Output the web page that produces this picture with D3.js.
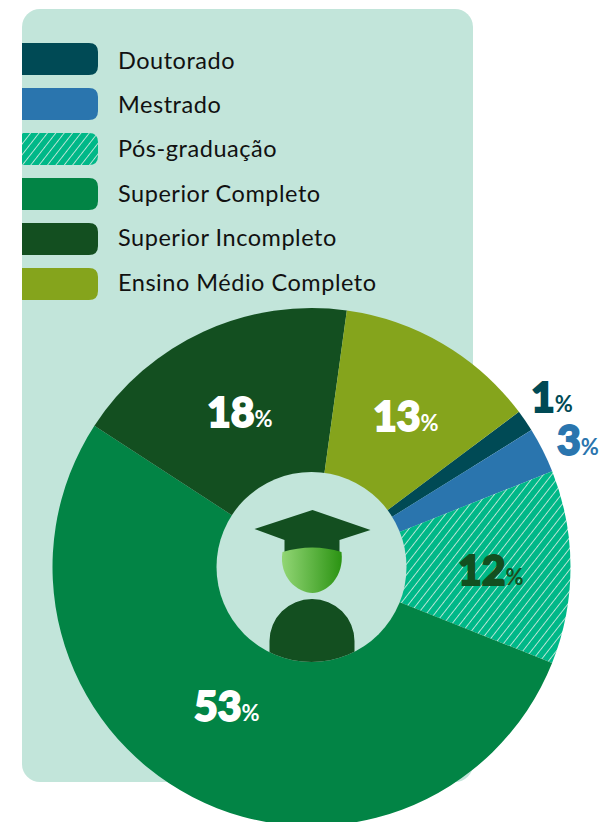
<!DOCTYPE html>
<html><head><meta charset="utf-8">
<script src="https://cdn.jsdelivr.net/npm/d3@7"></script>
<style>html,body{margin:0;padding:0;background:#fff}svg{display:block}</style></head>
<body><svg id="c" width="600" height="822"></svg>
<script>
const categories=["Doutorado","Mestrado","Pós-graduação","Superior Completo","Superior Incompleto","Ensino Médio Completo"];
const shares=[1.36,2.84,12.06,53.14,18,12.6];
const labels=["1","3","12","53","18","13"];
const colors=["#004a55","#2a75ae","url(#hatch)","#028445","#134f20","#85a41c"];
const labelColors=["#004a55","#2a75ae","#134f20","#fff","#fff","#fff"];
const labelPos=[[531,412],[557,455],[458,585],[194,721],[207,427],[373,431]];

const svg=d3.select("#c");
const defs=svg.append("defs");
const hp=defs.append("pattern").attr("id","hatch").attr("patternUnits","userSpaceOnUse")
  .attr("width",6.6).attr("height",6.6).attr("patternTransform","rotate(38)");
hp.append("rect").attr("width",6.6).attr("height",6.6).attr("fill","#00b888");
hp.append("rect").attr("width",0.9).attr("height",6.6).attr("fill","#c4e8da");
const g0=defs.append("linearGradient").attr("id","face");
g0.append("stop").attr("offset","0").attr("stop-color","#92d675");
g0.append("stop").attr("offset","1").attr("stop-color","#2b9312");

svg.append("rect").attr("x",22).attr("y",9).attr("width",451).attr("height",773).attr("rx",18).attr("fill","#c2e5da");

const y=d3.scalePoint().domain(categories).range([59,284]);
const yText=d3.scalePoint().domain(categories).range([68.5,290.5]);
const rows=svg.append("g").selectAll("g").data(categories).join("g");
rows.append("path").attr("fill",(d,i)=>colors[i])
  .attr("d",d=>{const t=y(d)-16,b=y(d)+16,r=98,q=9;
    return `M22 ${t}H${r-q}Q${r} ${t} ${r} ${t+q}V${b-q}Q${r} ${b} ${r-q} ${b}H22Z`;});
rows.append("text").attr("x",118).attr("y",d=>yText(d)).text(d=>d)
  .attr("font-family","Lato").attr("font-size",23.5).attr("letter-spacing",0.53).attr("fill","#111");

const cx=311.5,cy=567,R=259,r0=95;
const start=53.2*Math.PI/180;
const pie=d3.pie().value(d=>d).sort(null).startAngle(start).endAngle(start+2*Math.PI);
const arc=d3.arc().innerRadius(0).outerRadius(R);
const g=svg.append("g").attr("transform",`translate(${cx},${cy})`);
g.selectAll("path").data(pie(shares)).join("path").attr("d",arc).attr("fill",(d,i)=>colors[i]);
g.append("circle").attr("r",r0).attr("fill","#c2e5da");

// graduate icon
const icon=svg.append("g").attr("transform",`translate(${cx},${cy})`);
icon.append("path").attr("fill","#134f20").attr("d","M1 -57L59 -37L28 -27V-14H-27V-27L-57 -38Z");
icon.append("path").attr("fill","url(#face)").attr("d","M-29 -15Q1 -24 30 -15C33 10 15 26 1 26C-14 26 -33 10 -29 -15Z");
icon.append("clipPath").attr("id","hole").append("circle").attr("r",r0);
icon.append("path").attr("fill","#134f20").attr("clip-path","url(#hole)")
  .attr("d","M-42 100V74A42.5 42 0 0 1 43 74V100Z");

const t=svg.append("g").selectAll("text").data(labels).join("text")
  .attr("x",(d,i)=>labelPos[i][0]).attr("y",(d,i)=>labelPos[i][1]).attr("fill",(d,i)=>labelColors[i])
  .attr("font-family","Lato");
t.append("tspan").text(d=>d).attr("font-size",41).attr("font-weight",900).attr("stroke",(d,i)=>labelColors[i]).attr("stroke-width",1.8);
t.append("tspan").text("%").attr("font-size",22).attr("font-weight",700);
</script></body></html>
